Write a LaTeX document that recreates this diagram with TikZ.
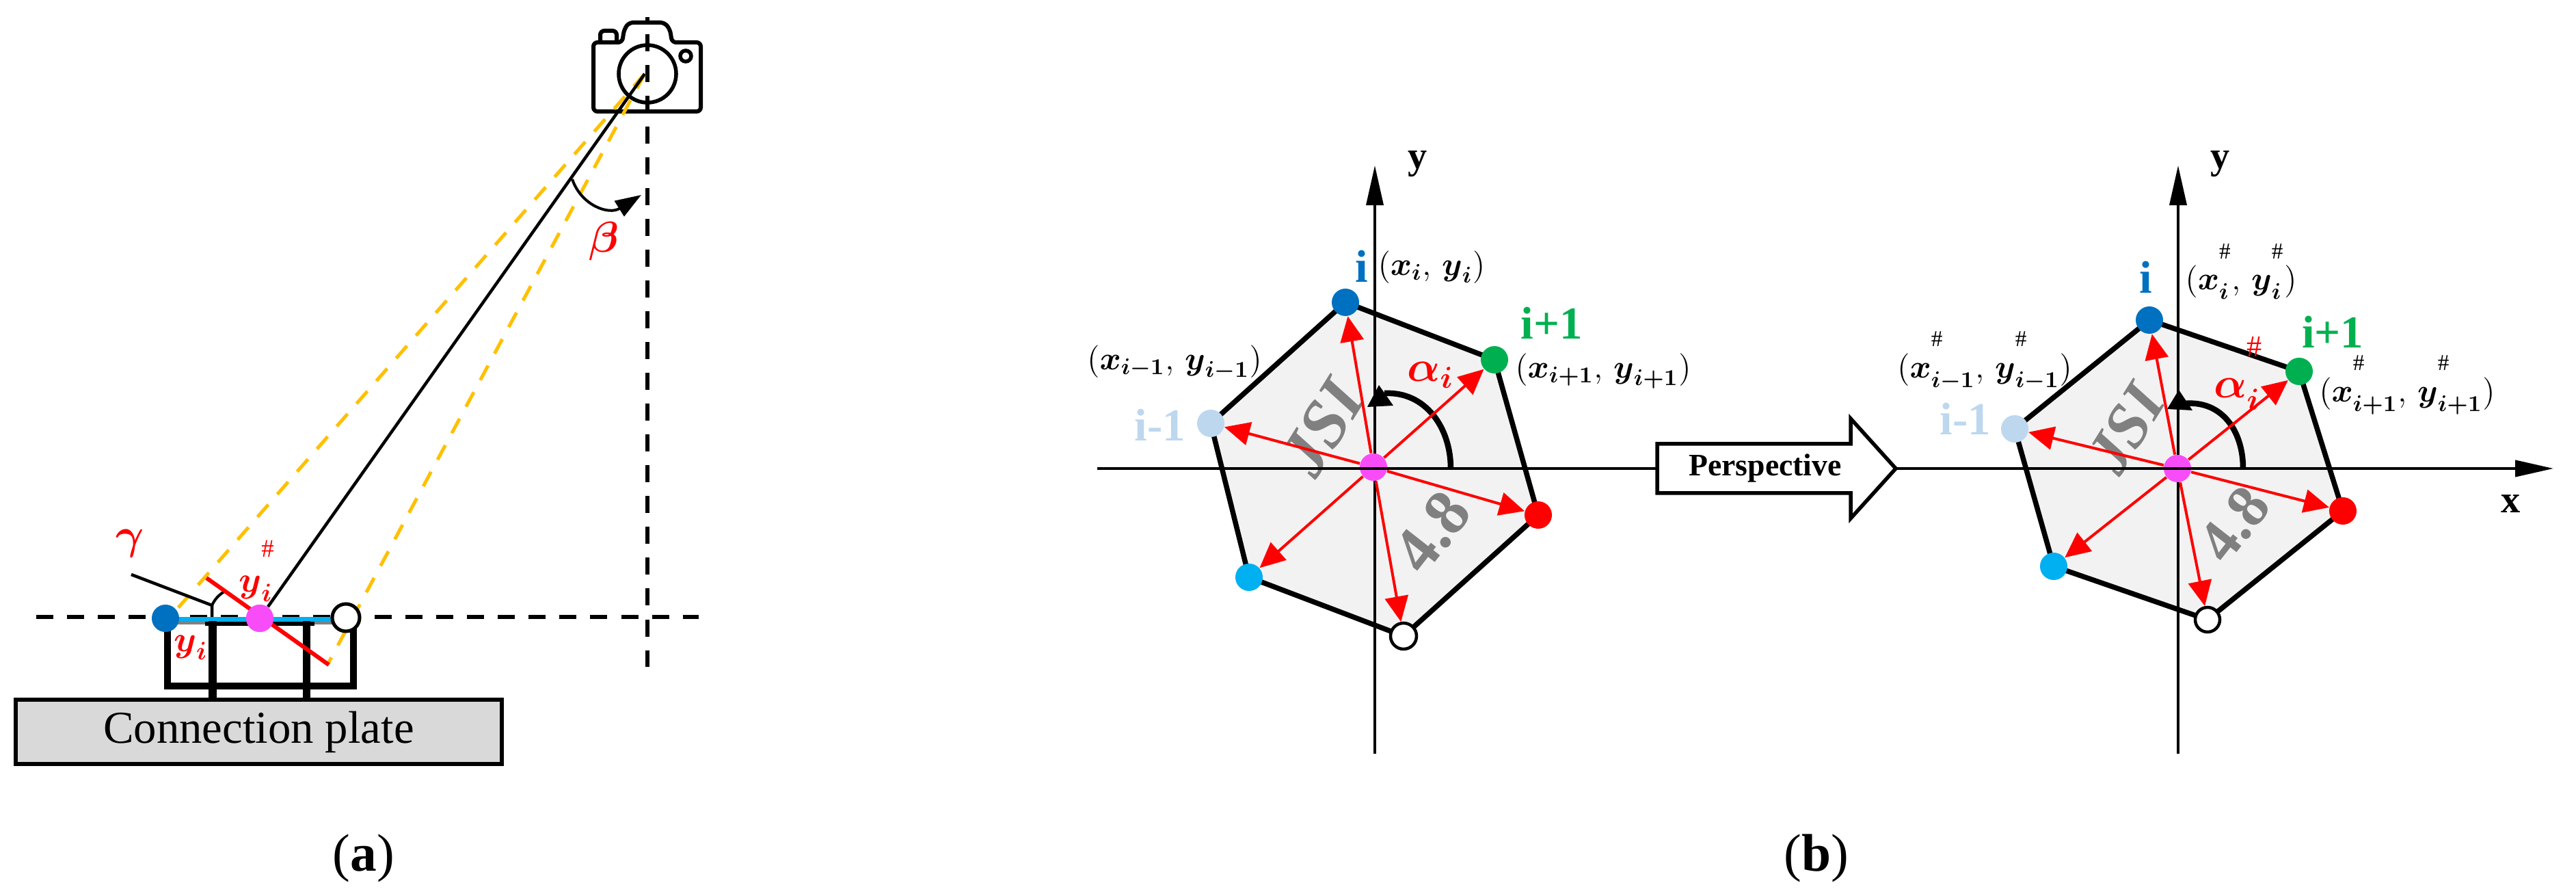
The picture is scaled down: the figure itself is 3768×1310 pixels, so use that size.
\documentclass[tikz,border=0pt]{standalone}
\usepackage{fix-cm}
\usepackage{amsmath}
\usepackage{fontspec}
\setmainfont{Liberation Serif}
\usetikzlibrary{arrows.meta}
\definecolor{dotblue}{HTML}{0070C0}
\definecolor{dotgreen}{HTML}{00B050}
\definecolor{dotlight}{HTML}{BDD7EE}
\definecolor{dotcyan}{HTML}{00B0F0}
\definecolor{dotpink}{HTML}{F94CF9}
\definecolor{dashyellow}{HTML}{FFC000}
\definecolor{platefill}{HTML}{D9D9D9}
\definecolor{polyfill}{HTML}{F2F2F2}
\newcommand{\fsz}[1]{\fontsize{#1}{#1}\selectfont}
\newcommand{\bs}{\boldsymbol}
\newcommand{\hs}{^{\raisebox{0.6em}{$\scriptstyle\#$}}}
\tikzset{
    dot/.style={circle, inner sep=0pt, minimum size=4mm},
    refline/.style={line width=0.6mm, dash pattern=on 2.5mm off 2mm},
    yelline/.style={dashyellow, line width=0.5mm, dash pattern=on 2.4mm off 2mm},
    frameline/.style={line width=1mm},
    polyline/.style={line width=0.75mm, line join=round},
    ray/.style={red, line width=0.4mm, -{Triangle[length=3.7mm, width=3.4mm]}},
    axisline/.style={line width=0.35mm},
    axistip/.style={axisline, -{Triangle[length=5.8mm, width=2.5mm]}},
    anglearc/.style={line width=0.85mm},
    camline/.style={line width=0.6mm, rounded corners=0.6mm},
    coordlabel/.style={font=\fsz{13.5}},
    vtxlabel/.style={font=\fsz{19}\bfseries},
    axislabel/.style={font=\fsz{16}},
    wmark/.style={gray, font=\fsz{28}\bfseries\itshape},
    redlabel/.style={red, font=\fsz{15}},
    anglelabel/.style={red, font=\fsz{18}}
}
\begin{document}
\begin{tikzpicture}[x=0.01cm, y=-0.01cm]
    \useasboundingbox (0,0) rectangle (3768,1310);

    \draw[refline] (53,902) -- (1022,902);
    \draw[refline, dash phase=2mm] (947,25) -- (947,975);
    \draw[frameline] (245,905) -- (245,1003) -- (517,1003) -- (517,905);
    \draw[gray, line width=0.5mm] (245,911) -- (517,911);
    \draw[line width=0.6mm] (300,912) -- (460,912);
    \draw[line width=1.1mm] (311,905) -- (311,1022);
    \draw[line width=1.1mm] (448,905) -- (448,1022);
    \node[draw, fill=platefill, line width=0.6mm, minimum width=7.11cm, minimum height=0.94cm, font=\fsz{19}] (plate) at (378.5,1070) {Connection plate};

    \coordinate (lens) at (943,108);
    \draw[camline] (875,62) -- (910,62) -- (913,43) -- (920,33) -- (972,33) -- (980,43) -- (983,62) -- (1025,62) -- (1025,163) -- (868,163) -- (868,62) -- (875,62);
    \draw[camline] (878,62) -- (878,45) -- (902,45) -- (902,62);
    \draw[line width=0.55mm] (947,108) circle[radius=0.42cm];
    \draw[line width=0.55mm] (1003,82) circle[radius=0.08cm];

    \coordinate (yelone) at (255,895);
    \coordinate (yeltwo) at (480,970);
    \draw[yelline] (lens) -- (yelone);
    \draw[yelline] (lens) -- (yeltwo);
    \draw[line width=0.45mm] (192,840) -- (310,885) -- (310,905);
    \draw[line width=0.4mm] (310,885) .. controls (315,875) and (320,870) .. (328,865);
    \draw[red, line width=0.6mm] (302,845) -- (481,972);

    \node[dot, fill=dotpink] (apink) at (380,904) {};
    \draw[line width=0.45mm] (lens) -- (apink);
    \draw[dotcyan, line width=0.6mm] (242,905) -- (506,905);
    \node[dot, fill=dotblue] (ablue) at (242,904) {};
    \node[dot, fill=dotpink] at (apink) {};
    \node[dot, draw, fill=white, line width=0.5mm] (awhite) at (506,903) {};

    \draw[line width=0.4mm, -{Triangle[length=3.8mm, width=2.6mm]}] (837,262) .. controls (850,300) and (890,315) .. (938,285);
    \node[anglelabel] (beta) at (883,353) {$\bs{\beta}$};
    \node[anglelabel] (gamma) at (190,795) {$\bs{\gamma}$};
    \node[redlabel] (yhash) at (376,835) {$\bs{y}_{\bs{i}}\hs$};
    \node[redlabel] (yplain) at (279,947) {$\bs{y}_{\bs{i}}$};
    \node[font=\fsz{22}, anchor=base] (labela) at (532,1274) {(\textbf{a})};
    \node[font=\fsz{22}, anchor=base] (labelb) at (2657,1274) {(\textbf{b})};

    \coordinate (li) at (1968,442);
    \coordinate (lk) at (2186,526);
    \coordinate (lr) at (2250,753);
    \coordinate (lw) at (2053,930);
    \coordinate (lc) at (1827,844);
    \coordinate (lh) at (1771,619);
    \filldraw[fill=polyfill, polyline] (li) -- (lk) -- (lr) -- (lw) -- (lc) -- (lh) -- cycle;
    \node[wmark, rotate=58] (ljsi) at (1935,625) {JSI};
    \node[wmark, rotate=52, font=\fsz{27}\bfseries] (lfour) at (2095,778) {4.8};
    \coordinate (lya) at (2011,1102);
    \coordinate (lyb) at (2011,242);
    \coordinate (lxa) at (1605,685);
    \draw[axistip] (lya) -- (lyb);
    \draw[anglearc] (2122,685) .. controls (2122,625) and (2085,572) .. (2025,575);
    \fill (2017,563) -- (2000,595) -- (2038,593) -- cycle;
    \node[dot, fill=dotblue] (ldi) at (li) {};
    \node[dot, fill=dotgreen] (ldk) at (lk) {};
    \node[dot, fill=red] (ldr) at (lr) {};
    \node[dot, draw, fill=white, line width=0.45mm, minimum size=3.8mm] (ldw) at (lw) {};
    \node[dot, fill=dotcyan] (ldc) at (lc) {};
    \node[dot, fill=dotlight] (ldh) at (lh) {};
    \node[dot, fill=dotpink] (lo) at (2009,683) {};
    \foreach \p in {ldi, ldk, ldr, ldw, ldc, ldh}
        \draw[ray] (lo) -- (\p);

    \node[axislabel] (lyname) at (2074,240) {$\mathbf{y}$};
    \node[vtxlabel, dotblue] (lni) at (1992,389) {i};
    \node[vtxlabel, dotgreen] (lnk) at (2270,472) {i+1};
    \node[vtxlabel, dotlight] (lnh) at (1697,621) {i-1};
    \node[coordlabel] (lci) at (2094,391) {$(\bs{x}_{\bs{i}},\, \bs{y}_{\bs{i}})$};
    \node[coordlabel] (lck) at (2345,543) {$(\bs{x}_{\bs{i+1}},\, \bs{y}_{\bs{i+1}})$};
    \node[coordlabel] (lch) at (1718,530) {$(\bs{x}_{\bs{i-1}},\, \bs{y}_{\bs{i-1}})$};
    \node[anglelabel, anchor=base west] (lalpha) at (2046,558) {$\bs{\alpha}_{\bs{i}}$};

    \coordinate (ri) at (3144,468);
    \coordinate (rk) at (3363,543);
    \coordinate (rr) at (3427,747);
    \coordinate (rw) at (3229,906);
    \coordinate (rc) at (3004,828);
    \coordinate (rh) at (2947,627);
    \filldraw[fill=polyfill, polyline] (ri) -- (rk) -- (rr) -- (rw) -- (rc) -- (rh) -- cycle;
    \node[wmark, rotate=58, font=\fsz{26}\bfseries\itshape] (rjsi) at (3110,627) {JSI};
    \node[wmark, rotate=52, font=\fsz{25}\bfseries] (rfour) at (3268,767) {4.8};
    \coordinate (rya) at (3186,1102);
    \coordinate (ryb) at (3186,242);
    \coordinate (rxb) at (3735,685);
    \draw[axistip] (rya) -- (ryb);
    \draw[anglearc] (3281,685) .. controls (3281,630) and (3250,585) .. (3195,590);
    \fill (3187,570) -- (3170,598) -- (3207,600) -- cycle;
    \node[dot, fill=dotblue] (rdi) at (ri) {};
    \node[dot, fill=dotgreen] (rdk) at (rk) {};
    \node[dot, fill=red] (rdr) at (rr) {};
    \node[dot, draw, fill=white, line width=0.45mm, minimum size=3.6mm] (rdw) at (rw) {};
    \node[dot, fill=dotcyan] (rdc) at (rc) {};
    \node[dot, fill=dotlight] (rdh) at (rh) {};
    \node[dot, fill=dotpink] (ro) at (3185,685) {};
    \foreach \p in {rdi, rdk, rdr, rdw, rdc, rdh}
        \draw[ray] (ro) -- (\p);

    \node[axislabel] (ryname) at (3248,240) {$\mathbf{y}$};
    \node[axislabel] (rxname) at (3673,737) {$\mathbf{x}$};
    \node[vtxlabel, dotblue] (rni) at (3139,405) {i};
    \node[vtxlabel, dotgreen] (rnk) at (3412,485) {i+1};
    \node[vtxlabel, dotlight] (rnh) at (2875,612) {i-1};
    \node[coordlabel] (rci) at (3278,397) {$(\bs{x}_{\bs{i}}\hs,\, \bs{y}_{\bs{i}}\hs)$};
    \node[coordlabel] (rck) at (3521,563) {$(\bs{x}_{\bs{i+1}}\hs,\, \bs{y}_{\bs{i+1}}\hs)$};
    \node[coordlabel] (rch) at (2903,528) {$(\bs{x}_{\bs{i-1}}\hs,\, \bs{y}_{\bs{i-1}}\hs)$};
    \node[anglelabel, anchor=base west] (ralpha) at (3226,582) {$\bs{\alpha}_{\bs{i}}\hs$};

    \draw[axisline] (lxa) -- (2424,685);
    \draw[axistip, line width=0.4mm, -{Triangle[length=5.6mm, width=2.4mm]}] (2773,685) -- (rxb);
    \draw[line width=0.55mm, fill=white, line join=miter] (2424,649) -- (2707,649) -- (2707,612) -- (2773,685) -- (2707,758) -- (2707,721) -- (2424,721) -- cycle;
    \node[font=\fsz{13}\bfseries] (persp) at (2582,685) {Perspective};
\end{tikzpicture}
\end{document}
